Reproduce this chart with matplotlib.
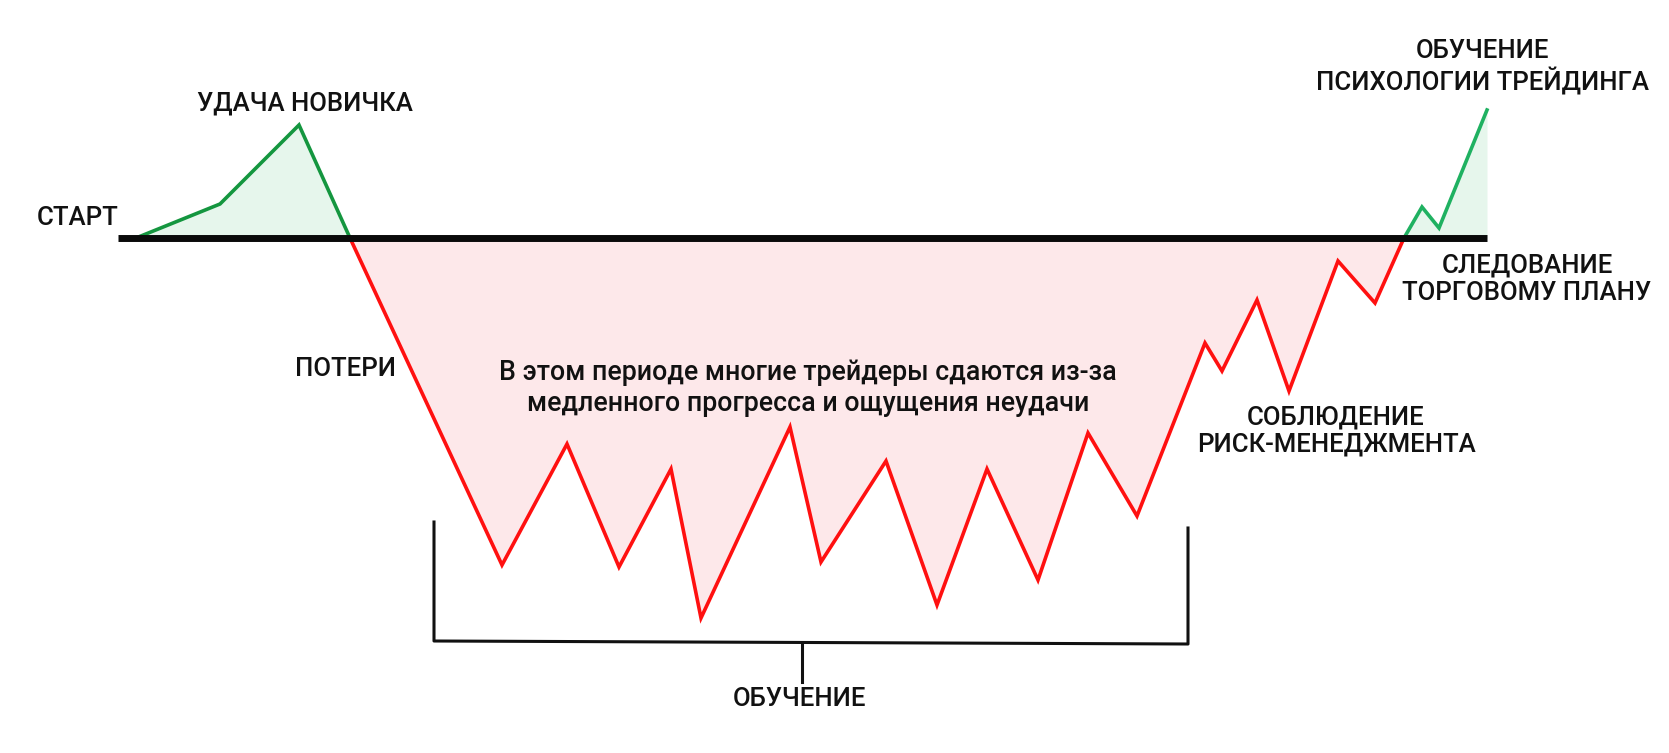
import numpy as np
import matplotlib
matplotlib.use("Agg")
from matplotlib import pyplot as plt

plt.rcParams['font.family'] = ['Roboto', 'DejaVu Sans']

# baseline level = 0, positive = profit (pixel-like units)
green_start_x = [136, 220, 299, 350]
green_start_y = [0, 34, 113, 0]

red_x = [350, 502, 567, 619, 671, 701, 790, 821, 886, 937, 987, 1038, 1088,
         1137, 1205, 1222, 1257, 1289, 1338, 1375, 1404]
red_y = [0, -327, -206, -329, -231, -380, -189, -324, -223, -367, -231, -342,
         -195, -278, -105, -133, -62, -153, -23, -65, 0]

green_end_x = [1404, 1422, 1439, 1487]
green_end_y = [0, 31, 10, 128]

baseline_x = [118, 1487]

labels = {
    'start': 'СТАРТ',
    'luck': 'УДАЧА НОВИЧКА',
    'loss': 'ПОТЕРИ',
    'note': 'В этом периоде многие трейдеры сдаются из-за\nмедленного прогресса и ощущения неудачи',
    'learn': 'ОБУЧЕНИЕ',
    'risk': 'СОБЛЮДЕНИЕ\nРИСК-МЕНЕДЖМЕНТА',
    'plan': 'СЛЕДОВАНИЕ\nТОРГОВОМУ ПЛАНУ',
    'psy': 'ОБУЧЕНИЕ\nПСИХОЛОГИИ ТРЕЙДИНГА',
}

GREEN_DARK = '#14963f'
GREEN = '#1fb161'
GREEN_FILL = '#e6f6ec'
RED = '#ff1010'
RED_FILL = '#fde8ea'
TXT = '#111111'

fig = plt.figure(figsize=(16.69, 7.53), dpi=100)
ax = fig.add_axes([0, 0, 1, 1])
ax.set_xlim(0, 1669)
ax.set_ylim(238 - 753, 238)
ax.set_axis_off()

# fills
ax.fill_between(green_start_x, green_start_y, 0, color=GREEN_FILL, lw=0, zorder=1)
ax.fill_between(red_x, red_y, 0, color=RED_FILL, lw=0, zorder=1)
ax.fill_between(green_end_x, green_end_y, 0, color=GREEN_FILL, lw=0, zorder=1)

# lines
ax.plot(green_start_x, green_start_y, color=GREEN_DARK, lw=2.6, zorder=3, solid_joinstyle='miter')
ax.plot(red_x, red_y, color=RED, lw=2.6, zorder=3, solid_joinstyle='miter')
ax.plot(green_end_x, green_end_y, color=GREEN, lw=2.6, zorder=3, solid_joinstyle='miter')
ax.plot(baseline_x, [0, 0], color='#0a0a0a', lw=5, zorder=4, solid_capstyle='butt')

# bracket under learning period
bx0, bx1, bmid = 434, 1188, 802
ax.plot([bx0, bx0, bx1, bx1], [238 - 522, 238 - 641, 238 - 644, 238 - 528],
        color='#111111', lw=2.2, zorder=2)
ax.plot([bmid, bmid], [238 - 643, 238 - 682], color='#111111', lw=2.2, zorder=2)

kw = dict(color=TXT, fontsize=18.5, fontweight='medium', ha='center', va='center',
          linespacing=1.25, zorder=5)
ax.text(78, 238 - 218, labels['start'], **kw)
ax.text(305, 238 - 103, labels['luck'], **kw)
ax.text(345, 238 - 369, labels['loss'], **kw)
ax.text(808, 238 - 388, labels['note'], **dict(kw, fontsize=19.3, linespacing=1.2))
ax.text(799, 238 - 699, labels['learn'], **kw)
ax.text(1336, 238 - 431, labels['risk'], **dict(kw, linespacing=1.2))
ax.text(1527, 238 - 279, labels['plan'], **dict(kw, linespacing=1.2))
ax.text(1482, 238 - 67, labels['psy'], **dict(kw, linespacing=1.2))

fig.savefig('out.png', dpi=100, facecolor='white')
